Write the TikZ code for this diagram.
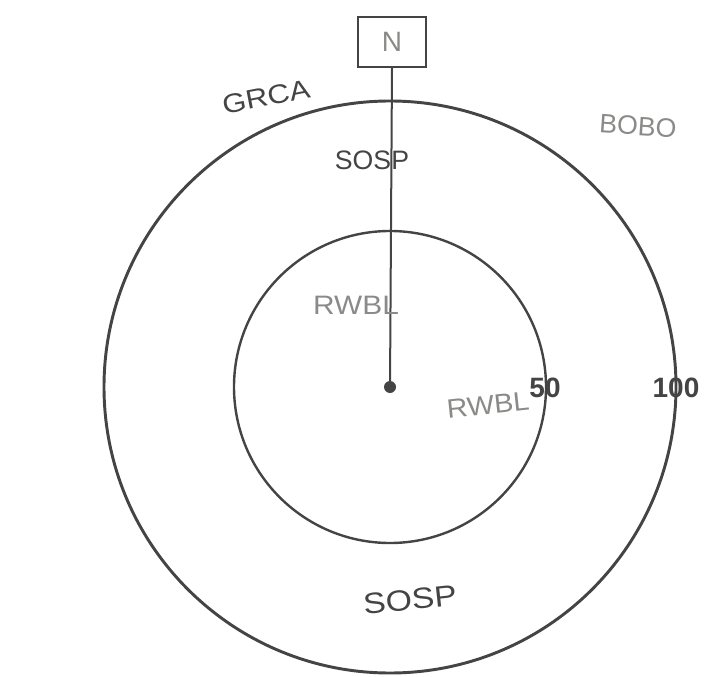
\documentclass[tikz,border=0pt]{standalone}
\usepackage{fontspec}
\setmainfont{Liberation Sans}
\definecolor{ink}{HTML}{444444}
\definecolor{pencil}{HTML}{8A8A88}
\begin{document}
\begin{tikzpicture}[x=0.75pt,y=-0.75pt,
  ring/.style={draw=ink,line width=2.2pt},
  hand/.style={font=\fontsize{20}{20}\selectfont,text=ink,inner sep=0pt},
  handgray/.style={hand,text=pencil},
  dist/.style={font=\fontsize{21}{21}\selectfont\bfseries,text=ink,inner sep=0pt},
  northbox/.style={draw=ink,line width=1.5pt,minimum width=51pt,minimum height=37.5pt,inner sep=0pt,text=pencil,font=\fontsize{21}{21}\selectfont}]
\useasboundingbox (0,0) rectangle (710,677);
\coordinate (c) at (390,387);
\draw[ring] (c) circle[radius=286];
\draw[ring,line width=1.8pt] (c) circle[radius=156];
\node[northbox] (n) at (392,42) {N};
\fill[ink] (c) circle[radius=6] node (dot) {};
\draw[ink,line width=1.5pt] (n.south) -- (c);
\node[hand,rotate=11,xscale=1.15] (grca) at (266,97) {GRCA};
\node[handgray,rotate=-4] (bobo) at (638,126) {BOBO};
\node[hand] (sosp1) at (372,160) {SOSP};
\node[handgray,xscale=1.12] (rwbl1) at (356,305) {RWBL};
\node[handgray,rotate=6,xscale=1.08] (rwbl2) at (488,405) {RWBL};
\node[dist] (d50) at (545,388) {50};
\node[dist] (d100) at (676,388) {100};
\node[hand,rotate=6,font=\fontsize{22}{22}\selectfont,xscale=1.15] (sosp2) at (410,600) {SOSP};
\end{tikzpicture}
\end{document}
